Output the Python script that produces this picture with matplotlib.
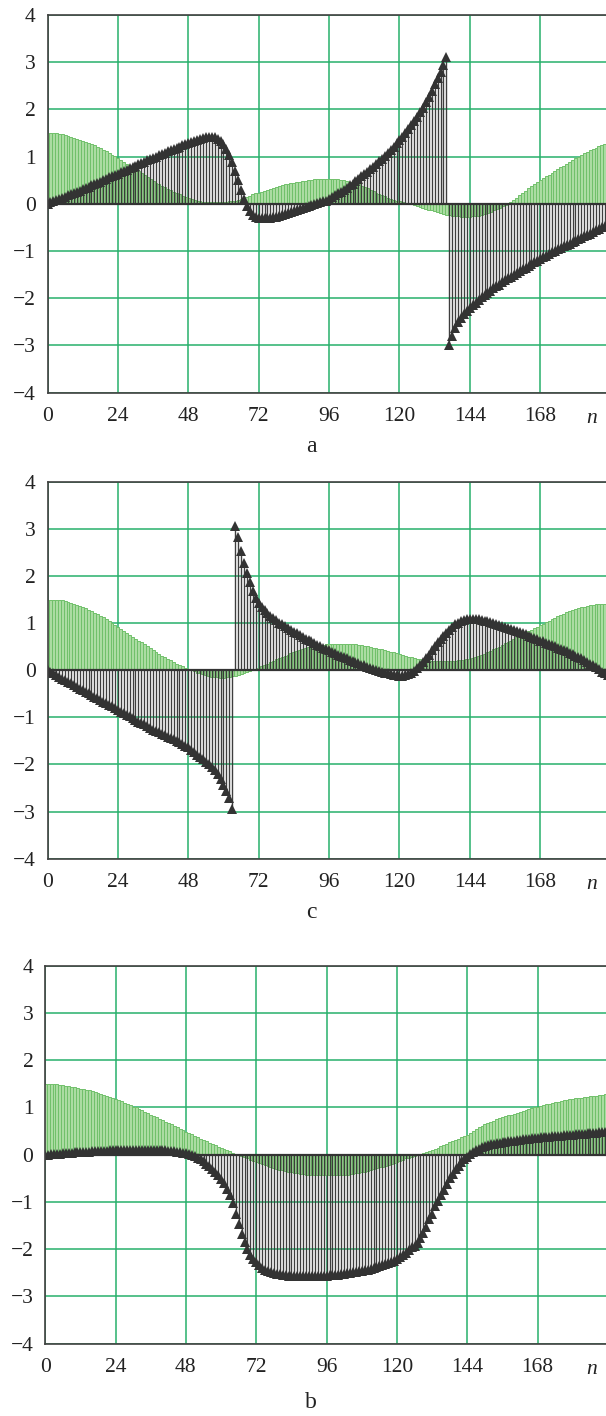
import matplotlib
matplotlib.use('Agg')
import matplotlib.pyplot as plt
import numpy as np

plt.rcParams['font.family'] = ['Liberation Serif', 'DejaVu Serif']

n = np.arange(192)

# ---------------- panel a ----------------
a_green = [
    1.50, 1.50, 1.50, 1.50, 1.49, 1.48, 1.46, 1.44, 1.42, 1.40, 1.38,
    1.36, 1.34, 1.31, 1.29, 1.26, 1.24, 1.21, 1.18, 1.14, 1.11,
    1.08, 1.04, 1.01, 0.97, 0.93, 0.89, 0.85, 0.81, 0.77, 0.73,
    0.69, 0.65, 0.61, 0.57, 0.53, 0.49, 0.45, 0.42, 0.38, 0.35,
    0.32, 0.29, 0.26, 0.23, 0.20, 0.17, 0.15, 0.12, 0.10, 0.08,
    0.07, 0.05, 0.04, 0.04, 0.03, 0.03, 0.03, 0.03, 0.03, 0.04,
    0.04, 0.05, 0.06, 0.07, 0.09, 0.11, 0.13, 0.15, 0.17, 0.20,
    0.22, 0.24, 0.26, 0.28, 0.30, 0.32, 0.34, 0.36, 0.38, 0.40,
    0.41, 0.43, 0.44, 0.45, 0.46, 0.47, 0.48, 0.49, 0.50, 0.51,
    0.52, 0.52, 0.53, 0.53, 0.53, 0.53, 0.53, 0.53, 0.52, 0.51,
    0.50, 0.49, 0.47, 0.45, 0.43, 0.41, 0.38, 0.36, 0.33, 0.30,
    0.27, 0.24, 0.21, 0.18, 0.16, 0.13, 0.11, 0.09, 0.07, 0.05,
    0.04, 0.02, 0.01, 0.00, -0.02, -0.04, -0.06, -0.08, -0.10, -0.12,
    -0.14, -0.16, -0.18, -0.20, -0.22, -0.23, -0.24, -0.25, -0.26, -0.26,
    -0.27, -0.27, -0.27, -0.27, -0.26, -0.26, -0.25, -0.23, -0.21, -0.19,
    -0.17, -0.14, -0.11, -0.08, -0.05, -0.02, 0.01, 0.04, 0.08, 0.13,
    0.18, 0.23, 0.28, 0.33, 0.38, 0.42, 0.46, 0.50, 0.54, 0.58,
    0.62, 0.66, 0.69, 0.73, 0.77, 0.81, 0.85, 0.89, 0.93, 0.97,
    1.00, 1.04, 1.07, 1.10, 1.13, 1.16, 1.19, 1.22, 1.24, 1.26, 1.28,
]
a_black = [
    0.00, 0.03, 0.05, 0.08, 0.10, 0.13, 0.15, 0.18, 0.20, 0.23, 0.26,
    0.28, 0.31, 0.34, 0.36, 0.39, 0.42, 0.45, 0.47, 0.50, 0.53,
    0.56, 0.58, 0.61, 0.64, 0.67, 0.70, 0.72, 0.75, 0.78, 0.81,
    0.84, 0.87, 0.89, 0.92, 0.95, 0.98, 1.00, 1.03, 1.06, 1.08,
    1.11, 1.14, 1.16, 1.19, 1.21, 1.24, 1.27, 1.29, 1.32, 1.34,
    1.36, 1.38, 1.40, 1.41, 1.42, 1.42, 1.41, 1.38, 1.33, 1.26,
    1.16, 1.03, 0.88, 0.70, 0.50, 0.30, 0.11, -0.05, -0.16, -0.23,
    -0.27, -0.29, -0.30, -0.30, -0.30, -0.29, -0.28, -0.27, -0.25, -0.23,
    -0.21, -0.19, -0.17, -0.15, -0.13, -0.11, -0.09, -0.07, -0.05, -0.03,
    -0.01, 0.01, 0.03, 0.05, 0.07, 0.10, 0.14, 0.18, 0.22, 0.26,
    0.30, 0.34, 0.39, 0.43, 0.48, 0.53, 0.58, 0.63, 0.68, 0.74,
    0.79, 0.84, 0.90, 0.96, 1.02, 1.08, 1.14, 1.21, 1.28, 1.35,
    1.42, 1.50, 1.58, 1.66, 1.75, 1.84, 1.94, 2.04, 2.15, 2.27,
    2.40, 2.53, 2.67, 2.80, 2.95, 3.10, -3.00, -2.80, -2.63, -2.50,
    -2.41, -2.33, -2.27, -2.21, -2.15, -2.10, -2.04, -1.98, -1.93, -1.88,
    -1.84, -1.79, -1.75, -1.71, -1.66, -1.62, -1.58, -1.54, -1.50, -1.46,
    -1.42, -1.39, -1.35, -1.31, -1.28, -1.24, -1.20, -1.17, -1.13, -1.10,
    -1.06, -1.02, -0.99, -0.96, -0.93, -0.90, -0.87, -0.84, -0.81, -0.78,
    -0.75, -0.72, -0.69, -0.66, -0.63, -0.60, -0.56, -0.53, -0.50, -0.47, -0.44,
]

# ---------------- panel c ----------------
c_green = [
    1.50, 1.50, 1.50, 1.50, 1.49, 1.48, 1.47, 1.45, 1.43, 1.41, 1.39,
    1.36, 1.34, 1.31, 1.28, 1.25, 1.22, 1.19, 1.15, 1.12, 1.08,
    1.04, 1.00, 0.96, 0.92, 0.88, 0.84, 0.80, 0.75, 0.71, 0.67,
    0.63, 0.59, 0.55, 0.51, 0.47, 0.43, 0.39, 0.35, 0.31, 0.28,
    0.24, 0.21, 0.17, 0.14, 0.11, 0.08, 0.05, 0.02, 0.00, -0.02,
    -0.05, -0.07, -0.09, -0.11, -0.12, -0.14, -0.15, -0.15, -0.16, -0.16,
    -0.15, -0.14, -0.13, -0.12, -0.10, -0.08, -0.06, -0.04, -0.02, 0.01,
    0.03, 0.05, 0.08, 0.11, 0.14, 0.17, 0.20, 0.23, 0.25, 0.28,
    0.31, 0.33, 0.36, 0.38, 0.41, 0.43, 0.45, 0.47, 0.49, 0.50,
    0.51, 0.52, 0.53, 0.54, 0.55, 0.55, 0.56, 0.56, 0.56, 0.56,
    0.56, 0.56, 0.56, 0.55, 0.55, 0.54, 0.53, 0.52, 0.51, 0.50,
    0.48, 0.47, 0.45, 0.44, 0.42, 0.41, 0.39, 0.38, 0.36, 0.35,
    0.33, 0.31, 0.29, 0.27, 0.26, 0.24, 0.23, 0.22, 0.21, 0.21,
    0.20, 0.20, 0.20, 0.20, 0.20, 0.20, 0.20, 0.20, 0.20, 0.21,
    0.21, 0.22, 0.23, 0.24, 0.26, 0.28, 0.30, 0.32, 0.35, 0.38,
    0.41, 0.44, 0.47, 0.50, 0.53, 0.57, 0.60, 0.63, 0.67, 0.70,
    0.73, 0.76, 0.80, 0.83, 0.86, 0.89, 0.92, 0.96, 0.99, 1.02,
    1.05, 1.08, 1.11, 1.14, 1.17, 1.20, 1.23, 1.26, 1.28, 1.30,
    1.32, 1.34, 1.35, 1.37, 1.38, 1.39, 1.40, 1.40, 1.41, 1.41, 1.42,
]
c_black = [
    0.00, -0.04, -0.07, -0.11, -0.14, -0.18, -0.21, -0.25, -0.28, -0.32, -0.35,
    -0.39, -0.42, -0.46, -0.49, -0.53, -0.56, -0.60, -0.63, -0.67, -0.70,
    -0.74, -0.77, -0.81, -0.84, -0.88, -0.91, -0.95, -0.98, -1.02, -1.05,
    -1.09, -1.12, -1.15, -1.19, -1.22, -1.26, -1.29, -1.32, -1.35, -1.38,
    -1.41, -1.44, -1.47, -1.50, -1.53, -1.56, -1.60, -1.64, -1.69, -1.74,
    -1.79, -1.84, -1.89, -1.95, -2.00, -2.05, -2.12, -2.21, -2.31, -2.43,
    -2.56, -2.72, -2.95, 3.07, 2.82, 2.54, 2.27, 2.06, 1.87, 1.68,
    1.53, 1.42, 1.34, 1.28, 1.22, 1.16, 1.11, 1.06, 1.01, 0.97,
    0.93, 0.89, 0.85, 0.81, 0.78, 0.74, 0.71, 0.67, 0.64, 0.61,
    0.57, 0.54, 0.51, 0.48, 0.45, 0.42, 0.39, 0.36, 0.33, 0.30,
    0.28, 0.25, 0.22, 0.20, 0.17, 0.15, 0.12, 0.10, 0.07, 0.05,
    0.03, 0.01, -0.01, -0.03, -0.05, -0.07, -0.09, -0.10, -0.11, -0.12,
    -0.12, -0.11, -0.09, -0.06, -0.02, 0.04, 0.10, 0.17, 0.25, 0.33,
    0.42, 0.51, 0.59, 0.66, 0.72, 0.79, 0.86, 0.92, 0.97, 1.01,
    1.04, 1.06, 1.08, 1.09, 1.09, 1.09, 1.08, 1.07, 1.05, 1.04,
    1.02, 1.00, 0.98, 0.96, 0.94, 0.92, 0.90, 0.88, 0.86, 0.83,
    0.81, 0.78, 0.76, 0.73, 0.71, 0.68, 0.66, 0.63, 0.61, 0.58,
    0.56, 0.53, 0.51, 0.48, 0.45, 0.43, 0.40, 0.37, 0.34, 0.31,
    0.28, 0.25, 0.22, 0.18, 0.14, 0.10, 0.06, 0.02, -0.03, -0.07, -0.11,
]

# ---------------- panel b ----------------
b_green = [
    1.50, 1.50, 1.50, 1.49, 1.49, 1.48, 1.47, 1.46, 1.45, 1.44, 1.43,
    1.42, 1.40, 1.39, 1.37, 1.36, 1.34, 1.32, 1.30, 1.28, 1.26,
    1.24, 1.22, 1.20, 1.18, 1.15, 1.13, 1.10, 1.08, 1.05, 1.02,
    1.00, 0.97, 0.94, 0.91, 0.88, 0.85, 0.82, 0.79, 0.76, 0.73,
    0.70, 0.67, 0.64, 0.61, 0.58, 0.55, 0.52, 0.49, 0.46, 0.43,
    0.40, 0.37, 0.34, 0.31, 0.28, 0.25, 0.23, 0.20, 0.17, 0.14,
    0.12, 0.09, 0.07, 0.04, 0.02, 0.00, -0.03, -0.05, -0.08, -0.11,
    -0.14, -0.16, -0.18, -0.20, -0.22, -0.24, -0.26, -0.28, -0.30, -0.32,
    -0.33, -0.35, -0.36, -0.37, -0.38, -0.39, -0.40, -0.41, -0.42, -0.42,
    -0.43, -0.43, -0.44, -0.44, -0.44, -0.44, -0.44, -0.44, -0.44, -0.43,
    -0.43, -0.42, -0.42, -0.41, -0.40, -0.39, -0.38, -0.37, -0.36, -0.34,
    -0.33, -0.31, -0.29, -0.27, -0.25, -0.23, -0.21, -0.19, -0.17, -0.15,
    -0.13, -0.11, -0.08, -0.06, -0.04, -0.02, 0.00, 0.02, 0.04, 0.06,
    0.08, 0.11, 0.13, 0.15, 0.18, 0.20, 0.23, 0.26, 0.28, 0.31,
    0.34, 0.37, 0.39, 0.42, 0.46, 0.50, 0.54, 0.58, 0.61, 0.64,
    0.67, 0.70, 0.72, 0.75, 0.77, 0.79, 0.81, 0.83, 0.85, 0.87,
    0.89, 0.91, 0.93, 0.95, 0.97, 0.99, 1.01, 1.02, 1.04, 1.05,
    1.07, 1.08, 1.10, 1.11, 1.12, 1.14, 1.15, 1.16, 1.17, 1.18,
    1.19, 1.20, 1.21, 1.22, 1.23, 1.24, 1.25, 1.25, 1.26, 1.27, 1.28,
]
b_black = [
    0.00, 0.00, 0.01, 0.01, 0.02, 0.02, 0.03, 0.03, 0.04, 0.04, 0.05,
    0.05, 0.05, 0.06, 0.06, 0.06, 0.07, 0.07, 0.07, 0.08, 0.08,
    0.08, 0.09, 0.09, 0.09, 0.09, 0.10, 0.10, 0.10, 0.10, 0.10,
    0.10, 0.10, 0.10, 0.10, 0.10, 0.10, 0.10, 0.10, 0.10, 0.09,
    0.09, 0.08, 0.08, 0.07, 0.06, 0.05, 0.04, 0.03, 0.01, -0.01,
    -0.03, -0.06, -0.10, -0.14, -0.19, -0.24, -0.30, -0.36, -0.43, -0.51,
    -0.60, -0.72, -0.86, -1.03, -1.25, -1.47, -1.67, -1.85, -2.00, -2.12,
    -2.21, -2.28, -2.34, -2.39, -2.43, -2.46, -2.48, -2.50, -2.52, -2.53,
    -2.54, -2.55, -2.56, -2.56, -2.57, -2.57, -2.57, -2.57, -2.57, -2.57,
    -2.57, -2.57, -2.57, -2.56, -2.56, -2.56, -2.55, -2.55, -2.54, -2.54,
    -2.53, -2.52, -2.51, -2.50, -2.49, -2.48, -2.47, -2.46, -2.45, -2.43,
    -2.42, -2.40, -2.38, -2.36, -2.34, -2.32, -2.30, -2.27, -2.24, -2.21,
    -2.17, -2.13, -2.08, -2.02, -1.96, -1.94, -1.87, -1.77, -1.65, -1.52,
    -1.37, -1.25, -1.08, -0.97, -0.86, -0.74, -0.61, -0.50, -0.40, -0.31,
    -0.23, -0.16, -0.10, -0.04, 0.01, 0.06, 0.10, 0.13, 0.16, 0.18,
    0.20, 0.22, 0.23, 0.24, 0.25, 0.26, 0.27, 0.28, 0.29, 0.30,
    0.31, 0.32, 0.33, 0.33, 0.34, 0.35, 0.35, 0.36, 0.37, 0.37,
    0.38, 0.38, 0.39, 0.39, 0.40, 0.40, 0.41, 0.41, 0.42, 0.42,
    0.43, 0.43, 0.44, 0.44, 0.45, 0.45, 0.46, 0.46, 0.47, 0.47, 0.48,
]

x_ticks = [0, 24, 48, 72, 96, 120, 144, 168]
y_ticks = [-4, -3, -2, -1, 0, 1, 2, 3, 4]
panel_names = ['a', 'c', 'b']

W, H = 606, 1416
fig = plt.figure(figsize=(W / 100, H / 100), dpi=100)

GRID = '#27b06b'
GREEN_FACE = '#abdca2'
GREEN_EDGE = '#70c06a'
DARK = '#333333'

# (left_px, top_px, bottom_px, xmax)
layout = [
    (47.5, 15.0, 392.7, 190.4),
    (47.5, 481.7, 858.7, 190.4),
    (45.2, 965.7, 1343.7, 191.3),
]
label_y = [447, 913, 1403]
data = [(a_green, a_black), (c_green, c_black), (b_green, b_black)]

for (left, top, bot, xmax), (g, k), name, ly in zip(layout, data, panel_names, label_y):
    ax = fig.add_axes([left / W, 1 - bot / H, (W - left) / W, (bot - top) / H])
    ax.set_xlim(0, xmax)
    ax.set_ylim(-4, 4)
    ax.set_xticks(x_ticks)
    ax.set_yticks(y_ticks)
    ax.set_axisbelow(True)
    ax.grid(True, color=GRID, lw=1.1)
    ax.bar(n, g, width=1.0, color=GREEN_FACE, edgecolor=GREEN_EDGE,
           linewidth=0.7, zorder=2)
    ax.vlines(n, 0, k, color=DARK, lw=1.0, alpha=0.95, zorder=3)
    ax.axhline(0, color=DARK, lw=1.6, zorder=4)
    ax.plot(n, k, linestyle='none', marker='^', markersize=7,
            color=DARK, markeredgewidth=0, zorder=5, clip_on=True)
    for side in ['left', 'bottom', 'top']:
        ax.spines[side].set_color('#404040')
        ax.spines[side].set_linewidth(1.2)
        ax.spines[side].set_zorder(6)
    ax.spines['right'].set_visible(False)
    ax.tick_params(axis='both', length=0, labelsize=15.5, colors='#222222')
    ax.tick_params(axis='y', pad=8.5)
    ax.tick_params(axis='x', pad=10)
    fig.text(592 / W, 1 - (bot + 26) / H, 'n', style='italic', fontsize=15.5,
             ha='center', va='center', color='#222222')
    fig.text(311 / W, 1 - ly / H, name, fontsize=17, ha='center', va='center',
             color='#222222')

fig.savefig('out.png', dpi=100)
